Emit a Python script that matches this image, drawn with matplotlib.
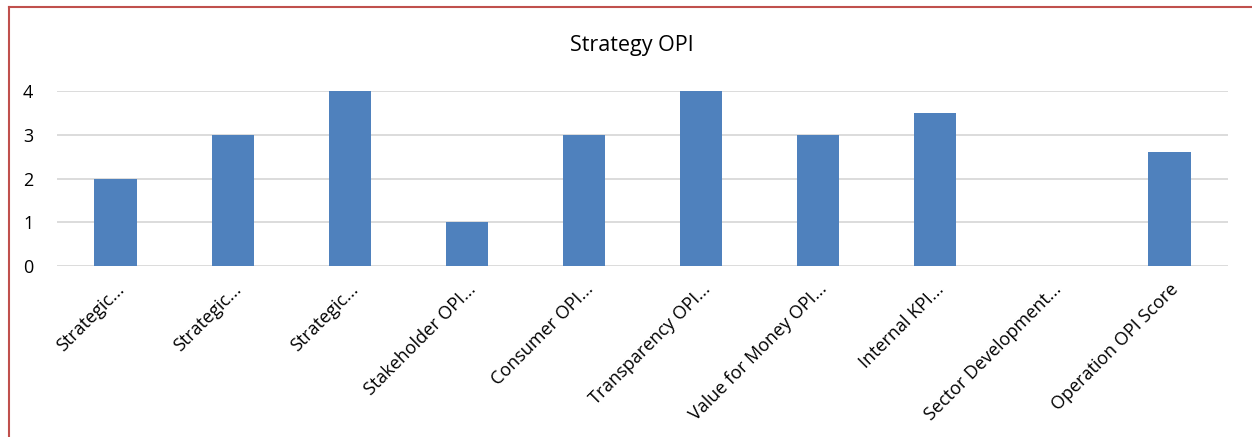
# Strategy OPI bar chart (Excel style)

import matplotlib
matplotlib.use('Agg')
import matplotlib.pyplot as plt
from matplotlib.lines import Line2D

categories = ['Strategic...', 'Strategic...', 'Strategic...', 'Stakeholder OPI...',
              'Consumer OPI...', 'Transparency OPI...', 'Value for Money OPI...',
              'Internal KPI...', 'Sector Development...', 'Operation OPI Score']
scores = [2, 3, 4, 1, 3, 4, 3, 3.5, 0, 2.6]
yticks = [0, 1, 2, 3, 4]

plt.rcParams['font.family'] = ['Open Sans', 'DejaVu Sans']

fig = plt.figure(figsize=(12.52, 4.37), dpi=100)
ax = fig.add_axes([57/1252, 1 - 266/437, (1228 - 57)/1252, (266 - 91)/437])

x = range(len(categories))
ax.bar(x, scores, width=0.36, color='#4F81BD', zorder=3)
ax.set_xlim(-0.5, len(categories) - 0.5)
ax.set_ylim(0, 4)
ax.set_yticks(yticks)
ax.set_xticks(list(x))
ax.set_xticklabels(categories, rotation=45, ha='right', rotation_mode='anchor')
ax.tick_params(axis='both', length=0, labelsize=13, colors='#000000')
ax.tick_params(axis='y', pad=17)
ax.tick_params(axis='x', pad=10)
ax.grid(axis='y', color='#D9D9D9', linewidth=1.3, zorder=0)
for s in ax.spines.values():
    s.set_visible(False)

fig.text(632/1252, 1 - 45/437, 'Strategy OPI', ha='center', va='center', fontsize=15.5)

# red frame on top and left edges
fig.add_artist(Line2D([8.5/1252, 8.5/1252], [0, 1 - 6.5/437], color='#C0504D', lw=1.5,
                      transform=fig.transFigure))
fig.add_artist(Line2D([8.5/1252, 1], [1 - 6.5/437, 1 - 6.5/437], color='#C0504D', lw=1.5,
                      transform=fig.transFigure))

fig.savefig('out.png', dpi=100)
